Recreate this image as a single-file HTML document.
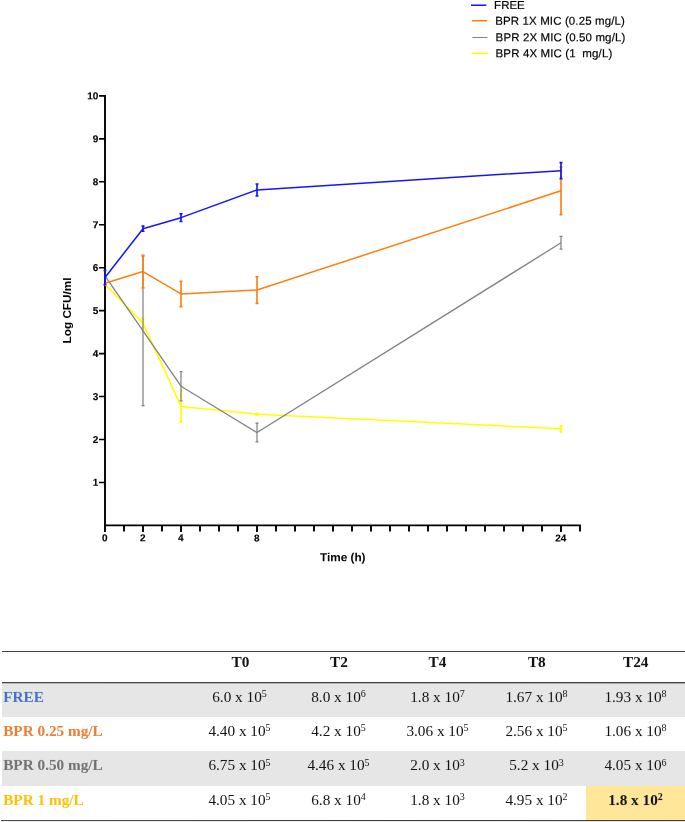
<!DOCTYPE html>
<html><head><meta charset="utf-8"><title>Time-kill curves</title>
<style>
html,body{margin:0;padding:0;background:#fff}
#t,svg{will-change:transform}
#t{transform:rotate(0.012deg);transform-origin:342px 736px}
#p{position:relative;width:685px;height:822px;overflow:hidden;background:#fff}
.ln{position:absolute;left:2px;width:683px;height:1px;background:#404040}
.bg{position:absolute;background:#e6e6e6}
.c{position:absolute;font-family:"Liberation Serif",serif;font-size:15.25px;line-height:20px;height:20px;text-align:center;color:#111;white-space:nowrap}
.b{font-weight:bold}
sup{font-size:10px;line-height:0;vertical-align:baseline;position:relative;top:-4.6px}
</style></head><body><div id="p">
<svg width="685" height="640" viewBox="0 0 685 640" style="position:absolute;left:0;top:0">
<g stroke="#000" stroke-width="1.9" fill="none">
<path d="M105.00 95.00V525.40H580.90"/>
<path stroke-width="1.6" d="M105.00 482.45h-6M105.00 439.50h-6M105.00 396.55h-6M105.00 353.60h-6M105.00 310.65h-6M105.00 267.70h-6M105.00 224.75h-6M105.00 181.80h-6M105.00 138.85h-6M105.00 95.90h-6"/>
<path stroke-width="1.9" d="M105.00 525.40v6.6M124.00 525.40v6.1M143.00 525.40v6.6M162.00 525.40v6.1M181.00 525.40v6.6M200.00 525.40v6.1M219.00 525.40v6.1M238.00 525.40v6.1M257.00 525.40v6.6M276.00 525.40v6.1M295.00 525.40v6.1M314.00 525.40v6.1M333.00 525.40v6.1M352.00 525.40v6.1M371.00 525.40v6.1M390.00 525.40v6.1M409.00 525.40v6.1M428.00 525.40v6.1M447.00 525.40v6.1M466.00 525.40v6.1M485.00 525.40v6.1M504.00 525.40v6.1M523.00 525.40v6.1M542.00 525.40v6.1M561.00 525.40v6.6M580.00 525.40v6.1"/>
</g>
<polyline fill="none" stroke="#ffff00" stroke-width="1.55" stroke-linejoin="round" points="105.00,284.45 143.00,323.11 181.00,406.43 257.00,414.16 561.00,428.76"/>
<path fill="none" stroke="#ffff00" stroke-width="1.71" d="M143.00 318.38V327.83M141.50 318.38h3M141.50 327.83h3"/>
<path fill="none" stroke="#ffff00" stroke-width="1.71" d="M181.00 390.75V422.11M179.50 390.75h3M179.50 422.11h3"/>
<path fill="none" stroke="#ffff00" stroke-width="1.71" d="M257.00 413.30V415.02M255.50 413.30h3M255.50 415.02h3"/>
<path fill="none" stroke="#ffff00" stroke-width="1.71" d="M561.00 425.76V431.77M559.50 425.76h3M559.50 431.77h3"/>
<polyline fill="none" stroke="#828282" stroke-width="1.3" stroke-linejoin="round" points="105.00,275.86 143.00,330.84 181.00,386.24 257.00,432.50 561.00,242.79"/>
<path fill="none" stroke="#828282" stroke-width="1.23" d="M143.00 256.10V405.57M141.50 256.10h3M141.50 405.57h3"/>
<path fill="none" stroke="#828282" stroke-width="1.23" d="M181.00 371.64V400.84M179.50 371.64h3M179.50 400.84h3"/>
<path fill="none" stroke="#828282" stroke-width="1.23" d="M257.00 423.05V441.95M255.50 423.05h3M255.50 441.95h3"/>
<path fill="none" stroke="#828282" stroke-width="1.23" d="M561.00 236.35V249.23M559.50 236.35h3M559.50 249.23h3"/>
<polyline fill="none" stroke="#ff7f10" stroke-width="1.5" stroke-linejoin="round" points="105.00,283.16 143.00,271.57 181.00,293.90 257.00,290.03 561.00,190.82"/>
<path fill="none" stroke="#ff7f10" stroke-width="1.65" d="M143.00 255.24V287.89M141.50 255.24h3M141.50 287.89h3"/>
<path fill="none" stroke="#ff7f10" stroke-width="1.65" d="M181.00 281.23V306.57M179.50 281.23h3M179.50 306.57h3"/>
<path fill="none" stroke="#ff7f10" stroke-width="1.65" d="M257.00 276.72V303.35M255.50 276.72h3M255.50 303.35h3"/>
<path fill="none" stroke="#ff7f10" stroke-width="1.65" d="M561.00 166.98V214.66M559.50 166.98h3M559.50 214.66h3"/>
<polyline fill="none" stroke="#1414ff" stroke-width="1.5" stroke-linejoin="round" points="105.00,277.58 143.00,228.70 181.00,217.66 257.00,189.96 561.00,170.63"/>
<path fill="none" stroke="#1414ff" stroke-width="1.65" d="M105.00 270.49V284.67M103.50 270.49h3M103.50 284.67h3"/>
<path fill="none" stroke="#1414ff" stroke-width="1.65" d="M143.00 226.12V231.28M141.50 226.12h3M141.50 231.28h3"/>
<path fill="none" stroke="#1414ff" stroke-width="1.65" d="M181.00 213.80V221.53M179.50 213.80h3M179.50 221.53h3"/>
<path fill="none" stroke="#1414ff" stroke-width="1.65" d="M257.00 183.95V195.97M255.50 183.95h3M255.50 195.97h3"/>
<path fill="none" stroke="#1414ff" stroke-width="1.65" d="M561.00 162.69V178.58M559.50 162.69h3M559.50 178.58h3"/>
<g font-family="Liberation Sans, sans-serif" font-weight="bold" font-size="10px" fill="#000" stroke="#000" stroke-width="0.15" transform="rotate(0.03 100 300)">
<text x="98.3" y="485.85" text-anchor="end">1</text>
<text x="98.3" y="442.90" text-anchor="end">2</text>
<text x="98.3" y="399.95" text-anchor="end">3</text>
<text x="98.3" y="357.00" text-anchor="end">4</text>
<text x="98.3" y="314.05" text-anchor="end">5</text>
<text x="98.3" y="271.10" text-anchor="end">6</text>
<text x="98.3" y="228.15" text-anchor="end">7</text>
<text x="98.3" y="185.20" text-anchor="end">8</text>
<text x="98.3" y="142.25" text-anchor="end">9</text>
<text x="98.3" y="99.30" text-anchor="end">10</text>
<text x="105.00" y="541.3" text-anchor="middle">0</text>
<text x="143.00" y="541.3" text-anchor="middle">2</text>
<text x="181.00" y="541.3" text-anchor="middle">4</text>
<text x="257.00" y="541.3" text-anchor="middle">8</text>
<text x="561.00" y="541.3" text-anchor="middle">24</text>
</g>
<g font-family="Liberation Sans, sans-serif" font-weight="bold" font-size="11.75px" fill="#000" transform="rotate(0.03 342 560)">
<text x="342.8" y="561.3" text-anchor="middle">Time (h)</text>
<text transform="translate(70.9 310.6) rotate(-90.03)" text-anchor="middle">Log CFU/ml</text>
</g>
<g font-family="Liberation Sans, sans-serif" font-size="11.5px" fill="#000" stroke="#000" stroke-width="0.18" transform="rotate(0.03 560 30)">
<path stroke="#1414ff" stroke-width="1.5" d="M471.0 5.3H486.3"/>
<text x="494.1" y="9.1" letter-spacing="0" xml:space="preserve">FREE</text>
<path stroke="#ff7f10" stroke-width="1.5" d="M472.0 20.9H487.2"/>
<text x="495.2" y="24.8" letter-spacing="0.12" xml:space="preserve">BPR 1X MIC (0.25 mg/L)</text>
<path stroke="#828282" stroke-width="1.1" d="M472.4 37.5H487.4"/>
<text x="495.6" y="41.3" letter-spacing="0.12" xml:space="preserve">BPR 2X MIC (0.50 mg/L)</text>
<path stroke="#ffff00" stroke-width="1.5" d="M472.4 53.6H487.7"/>
<text x="495.6" y="57.2" letter-spacing="0.12" xml:space="preserve">BPR 4X MIC (1  mg/L)</text>
</g>
</svg>
<div id="t"><div class="ln" style="top:651px"></div>
<div class="ln" style="top:682px"></div>
<div class="ln" style="top:683px;background:#b4b4b4"></div>
<div class="ln" style="top:820px;left:1px;width:684px"></div>
<div class="ln" style="top:821px;left:1px;width:684px;background:#ececec"></div>
<div class="bg" style="left:2px;width:682.7px;top:683.8px;height:33.6px"></div>
<div class="bg" style="left:2px;width:682.7px;top:751.0px;height:34.8px"></div>
<div class="bg" style="left:585.6px;width:99.1px;top:785.8px;height:34.5px;background:#ffe699"></div>
<div class="c b" style="left:191.0px;width:99px;top:651.6px">T0</div>
<div class="c b" style="left:289.5px;width:99px;top:651.6px">T2</div>
<div class="c b" style="left:388.0px;width:99px;top:651.6px">T4</div>
<div class="c b" style="left:487.3px;width:99px;top:651.6px">T8</div>
<div class="c b" style="left:586.3px;width:99px;top:651.6px">T24</div>
<div class="c b" style="left:3.2px;width:186px;text-align:left;color:#4472c4;top:686.6px">FREE</div>
<div class="c" style="left:190px;width:99px;top:686.6px">6.0 x 10<sup>5</sup></div>
<div class="c" style="left:289px;width:99px;top:686.6px">8.0 x 10<sup>6</sup></div>
<div class="c" style="left:388px;width:99px;top:686.6px">1.8 x 10<sup>7</sup></div>
<div class="c" style="left:487px;width:99px;top:686.6px">1.67 x 10<sup>8</sup></div>
<div class="c" style="left:586px;width:99px;top:686.6px">1.93 x 10<sup>8</sup></div>
<div class="c b" style="left:3.2px;width:186px;text-align:left;color:#ed7d31;top:721.0px">BPR 0.25 mg/L</div>
<div class="c" style="left:190px;width:99px;top:721.0px">4.40 x 10<sup>5</sup></div>
<div class="c" style="left:289px;width:99px;top:721.0px">4.2 x 10<sup>5</sup></div>
<div class="c" style="left:388px;width:99px;top:721.0px">3.06 x 10<sup>5</sup></div>
<div class="c" style="left:487px;width:99px;top:721.0px">2.56 x 10<sup>5</sup></div>
<div class="c" style="left:586px;width:99px;top:721.0px">1.06 x 10<sup>8</sup></div>
<div class="c b" style="left:3.2px;width:186px;text-align:left;color:#727272;top:755.3px">BPR 0.50 mg/L</div>
<div class="c" style="left:190px;width:99px;top:755.3px">6.75 x 10<sup>5</sup></div>
<div class="c" style="left:289px;width:99px;top:755.3px">4.46 x 10<sup>5</sup></div>
<div class="c" style="left:388px;width:99px;top:755.3px">2.0 x 10<sup>3</sup></div>
<div class="c" style="left:487px;width:99px;top:755.3px">5.2 x 10<sup>3</sup></div>
<div class="c" style="left:586px;width:99px;top:755.3px">4.05 x 10<sup>6</sup></div>
<div class="c b" style="left:3.2px;width:186px;text-align:left;color:#ffc000;top:789.5px">BPR 1 mg/L</div>
<div class="c" style="left:190px;width:99px;top:789.5px">4.05 x 10<sup>5</sup></div>
<div class="c" style="left:289px;width:99px;top:789.5px">6.8 x 10<sup>4</sup></div>
<div class="c" style="left:388px;width:99px;top:789.5px">1.8 x 10<sup>3</sup></div>
<div class="c" style="left:487px;width:99px;top:789.5px">4.95 x 10<sup>2</sup></div>
<div class="c b" style="left:586px;width:99px;top:789.5px">1.8 x 10<sup>2</sup></div></div>
</div></body></html>
